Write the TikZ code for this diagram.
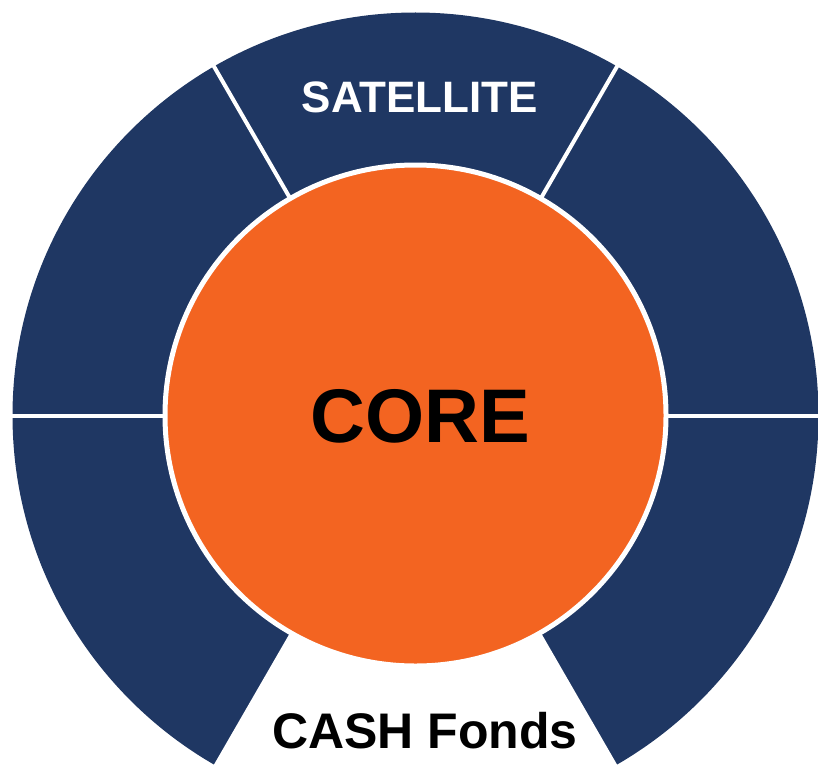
\documentclass[tikz,border=0pt]{standalone}
\usepackage{fontspec}
\setmainfont{Liberation Sans}
\definecolor{navy}{HTML}{1F3763}
\definecolor{coreorange}{HTML}{F36421}
\begin{document}
\begin{tikzpicture}[x=1pt,y=-1pt,
  divider/.style={white,line width=4pt},
  lbl/.style={anchor=base,inner sep=0pt,font=\bfseries}]
\useasboundingbox (0,0) rectangle (818,765);
\coordinate (c) at (415.5,415.5);
% navy ring (full disk)
\fill[navy] (c) circle[radius=403];
% white bottom sector (cash)
\fill[white] (c) -- ++(60:600) -- ++(-600,0) -- cycle;
% dividers
\draw[divider] (c) -- ++(0:420);
\draw[divider] (c) -- ++(180:420);
\draw[divider] (c) -- ++(-60:420);
\draw[divider] (c) -- ++(-120:420);
% core circle
\fill[coreorange,draw=white,line width=5pt] (c) circle[radius=250.5];
% labels
\node[lbl,white,font=\bfseries\fontsize{44}{50}\selectfont] (sat) at (420,113) {SATELLITE};
\node[lbl,black,font=\bfseries\fontsize{76}{80}\selectfont] (core) at (420.5,442) {CORE};
\node[lbl,black,font=\bfseries\fontsize{50}{56}\selectfont] (cash) at (425,748) {CASH Fonds};
\end{tikzpicture}
\end{document}
